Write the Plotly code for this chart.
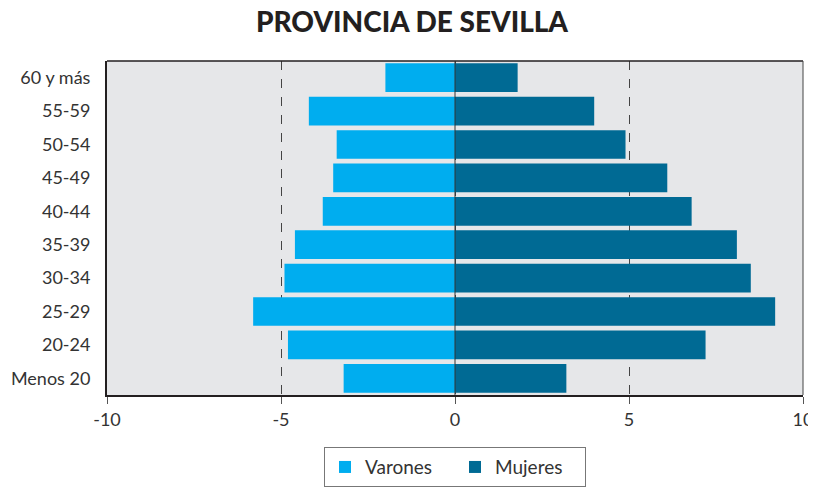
import plotly.graph_objects as go

categories = ["Menos 20", "20-24", "25-29", "30-34", "35-39", "40-44", "45-49", "50-54", "55-59", "60 y más"]
varones = [3.2, 4.8, 5.8, 4.9, 4.6, 3.8, 3.5, 3.4, 4.2, 2.0]
mujeres = [3.2, 7.2, 9.2, 8.5, 8.1, 6.8, 6.1, 4.9, 4.0, 1.8]
tick_vals = [-10, -5, 0, 5, 10]
tick_text = ["-10", "-5", "0", "5", "10"]

FONT = "Lato"
fig = go.Figure()
fig.add_trace(go.Bar(
    y=categories, x=[-v for v in varones], orientation="h", name="Varones",
    marker=dict(color="#00adef", line=dict(width=0)), hoverinfo="skip",
))
fig.add_trace(go.Bar(
    y=categories, x=mujeres, orientation="h", name="Mujeres",
    marker=dict(color="#006a94", line=dict(width=0)), hoverinfo="skip",
))

# page body has an 8px margin, so the figure is sized to end at the window edge
fig.update_layout(
    width=808, height=481,
    margin=dict(l=99, r=13, t=53, b=94, autoexpand=False),
    barmode="relative", bargap=0.14,
    paper_bgcolor="white", plot_bgcolor="#e6e7e9",
    title=dict(text="PROVINCIA DE SEVILLA", x=0.5, xanchor="center",
               y=1 - 14.5 / 481, yanchor="middle",
               font=dict(family="Lato", size=28, weight=900, color="#231f20")),
    font=dict(family=FONT, size=18, color="#333333"),
    showlegend=True,
    legend=dict(orientation="h", x=0.5, xanchor="center", y=-0.156, yanchor="top",
                bgcolor="white", bordercolor="#777777", borderwidth=1,
                font=dict(family=FONT, size=19, color="#333333"),
                itemwidth=30, entrywidth=85, traceorder="normal"),
    xaxis=dict(range=[-10, 10], tickvals=tick_vals, ticktext=tick_text, automargin=False,
               showgrid=True, griddash="dash", gridcolor="#444444", gridwidth=1,
               zeroline=False, showline=True, linecolor="#231f20", linewidth=2,
               ticks="outside", ticklen=7, tickcolor="#555555", tickwidth=1,
               tickfont=dict(family=FONT, size=18, color="#333333"), fixedrange=True),
    yaxis=dict(categoryorder="array", categoryarray=categories, automargin=False,
               showgrid=False, zeroline=False, showline=True, linecolor="#231f20", linewidth=2,
               ticks="", ticklabelstandoff=11,
               tickfont=dict(family=FONT, size=18, color="#333333"), fixedrange=True),
)

# frame top/right and zero line
fig.add_shape(type="line", xref="paper", yref="paper", x0=0, x1=1, y0=1, y1=1,
              line=dict(color="#231f20", width=1.5), layer="above")
fig.add_shape(type="line", xref="paper", yref="paper", x0=1, x1=1, y0=0, y1=1,
              line=dict(color="#444444", width=1), layer="above")
fig.add_shape(type="line", xref="x", yref="paper", x0=0, x1=0, y0=0, y1=1,
              line=dict(color="#333333", width=1), layer="above")

fig.write_html("out.html")
